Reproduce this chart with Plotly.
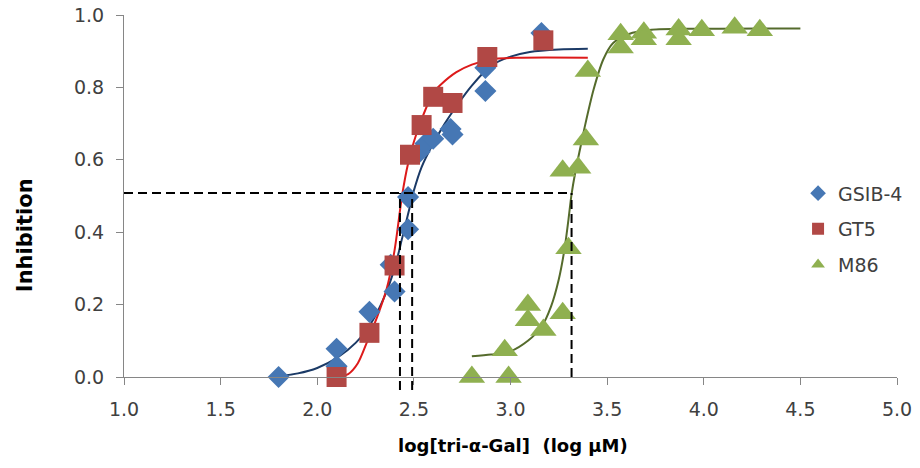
import plotly.graph_objects as go

# ---- measured points (log concentration, inhibition) ----
gsib_x = [1.80, 2.10, 2.10, 2.27, 2.40, 2.38, 2.47, 2.47, 2.53, 2.56, 2.60, 2.69, 2.70, 2.87, 2.87, 3.16]
gsib_y = [0.000, 0.078, 0.030, 0.180, 0.236, 0.310, 0.408, 0.497, 0.622, 0.645, 0.658, 0.685, 0.670, 0.854, 0.790, 0.950]

gt5_x = [2.10, 2.27, 2.40, 2.48, 2.54, 2.60, 2.70, 2.88, 3.17]
gt5_y = [0.000, 0.122, 0.308, 0.614, 0.696, 0.774, 0.757, 0.884, 0.930]

m86_x = [2.80, 2.99, 2.97, 3.09, 3.09, 3.17, 3.27, 3.30, 3.27, 3.35, 3.39, 3.40,
         3.57, 3.57, 3.69, 3.69, 3.87, 3.87, 3.99, 4.16, 4.29]
m86_y = [0.000, 0.000, 0.074, 0.199, 0.157, 0.130, 0.176, 0.356, 0.570, 0.578, 0.656, 0.845,
         0.910, 0.947, 0.951, 0.933, 0.960, 0.933, 0.958, 0.965, 0.958]

# ---- fitted dose-response curves ----
gsib_fit_x = [1.80, 1.90, 2.00, 2.10, 2.20, 2.28, 2.35, 2.40, 2.44, 2.47, 2.50, 2.54, 2.60,
              2.66, 2.72, 2.80, 2.90, 3.00, 3.10, 3.25, 3.40]
gsib_fit_y = [0.002, 0.010, 0.025, 0.052, 0.095, 0.150, 0.225, 0.300, 0.385, 0.450, 0.515, 0.580,
              0.645, 0.700, 0.748, 0.805, 0.860, 0.885, 0.898, 0.905, 0.907]

gt5_fit_x = [2.10, 2.16, 2.21, 2.26, 2.31, 2.36, 2.40, 2.44, 2.47, 2.50, 2.54, 2.60, 2.64,
             2.72, 2.80, 2.92, 3.06, 3.40]
gt5_fit_y = [0.000, 0.008, 0.038, 0.100, 0.166, 0.245, 0.350, 0.505, 0.590, 0.650, 0.712, 0.785,
             0.808, 0.842, 0.863, 0.879, 0.882, 0.882]

m86_fit_x = [2.80, 2.90, 3.00, 3.09, 3.16, 3.21, 3.25, 3.28, 3.30, 3.316, 3.335, 3.36, 3.385,
             3.43, 3.48, 3.53, 3.61, 3.73, 3.94, 4.50]
m86_fit_y = [0.057, 0.062, 0.071, 0.100, 0.138, 0.195, 0.270, 0.355, 0.435, 0.505, 0.565, 0.630,
             0.693, 0.794, 0.877, 0.922, 0.947, 0.959, 0.962, 0.963]

# ---- half-inhibition guide lines ----
half_level = 0.508
ic50_x = [2.428, 2.491, 3.316]
ic50_bottom = [-0.036, -0.036, 0.0]
x_start = 1.0

names = ["GSIB-4", "GT5", "M86"]
marker_colors = ["#4677B4", "#B14845", "#8FB050"]
line_colors = ["#1B3A66", "#DD1A1A", "#556B2C"]
symbols = ["diamond", "square", "triangle-up"]
sizes = [17, 20, 23]

FONT = "DejaVu Sans"

fig = go.Figure()

fits = [(gsib_fit_x, gsib_fit_y), (gt5_fit_x, gt5_fit_y), (m86_fit_x, m86_fit_y)]
for (fx, fy), col in zip(fits, line_colors):
    fig.add_trace(go.Scatter(x=fx, y=fy, mode="lines", showlegend=False, hoverinfo="skip",
                             line=dict(color=col, width=2, shape="spline", smoothing=0.8)))

pts = [(gsib_x, gsib_y), (gt5_x, gt5_y), (m86_x, m86_y)]
for i, (px, py) in enumerate(pts):
    fig.add_trace(go.Scatter(x=px, y=py, mode="markers", name=names[i], legendgroup=names[i],
                             cliponaxis=False,
                             marker=dict(symbol=symbols[i], size=sizes[i], color=marker_colors[i],
                                         line=dict(width=0))))

dash_line = dict(color="black", width=2, dash="9px,5px")
fig.add_shape(type="line", xref="x", yref="y", x0=x_start, x1=max(ic50_x),
              y0=half_level, y1=half_level, line=dash_line)
# y axis spans 0..1 over the full plot height, so paper and data y coincide
for xv, yb in zip(ic50_x, ic50_bottom):
    fig.add_shape(type="line", xref="x", yref="paper", x0=xv, x1=xv,
                  y0=yb, y1=half_level, line=dash_line)

axis_common = dict(showgrid=False, zeroline=False, showline=True, linecolor="#868686",
                   linewidth=1, ticks="outside", ticklen=7, tickcolor="#868686",
                   tickfont=dict(family=FONT, size=19, color="#404040"), tickformat=".1f",
                   automargin=False)

fig.update_xaxes(range=[1, 5], dtick=0.5, tick0=1, ticklabelstandoff=8, **axis_common)
fig.update_yaxes(range=[0, 1], dtick=0.2, tick0=0, ticklabelstandoff=8, **axis_common)

fig.add_annotation(text="<b>Inhibition</b>", xref="paper", yref="paper", x=-0.128, y=0.392,
                   textangle=-90, showarrow=False, xanchor="center", yanchor="middle",
                   font=dict(family=FONT, size=21, color="black"))
fig.add_annotation(text="<b>log[tri-\u03b1-Gal]\u00a0 (log \u03bcM)</b>", xref="paper", yref="paper",
                   x=0.5026, y=-0.188, showarrow=False, xanchor="center", yanchor="middle",
                   font=dict(family=FONT, size=18, color="black"))

fig.update_layout(
    width=920, height=468,
    margin=dict(l=124, r=20, t=15, b=91),
    paper_bgcolor="white", plot_bgcolor="white",
    showlegend=True,
    legend=dict(x=0.872, y=0.56, xanchor="left", yanchor="top",
                font=dict(family=FONT, size=19, color="#404040"),
                tracegroupgap=8, itemsizing="constant", bgcolor="rgba(0,0,0,0)"),
)

fig.write_html("out.html")
